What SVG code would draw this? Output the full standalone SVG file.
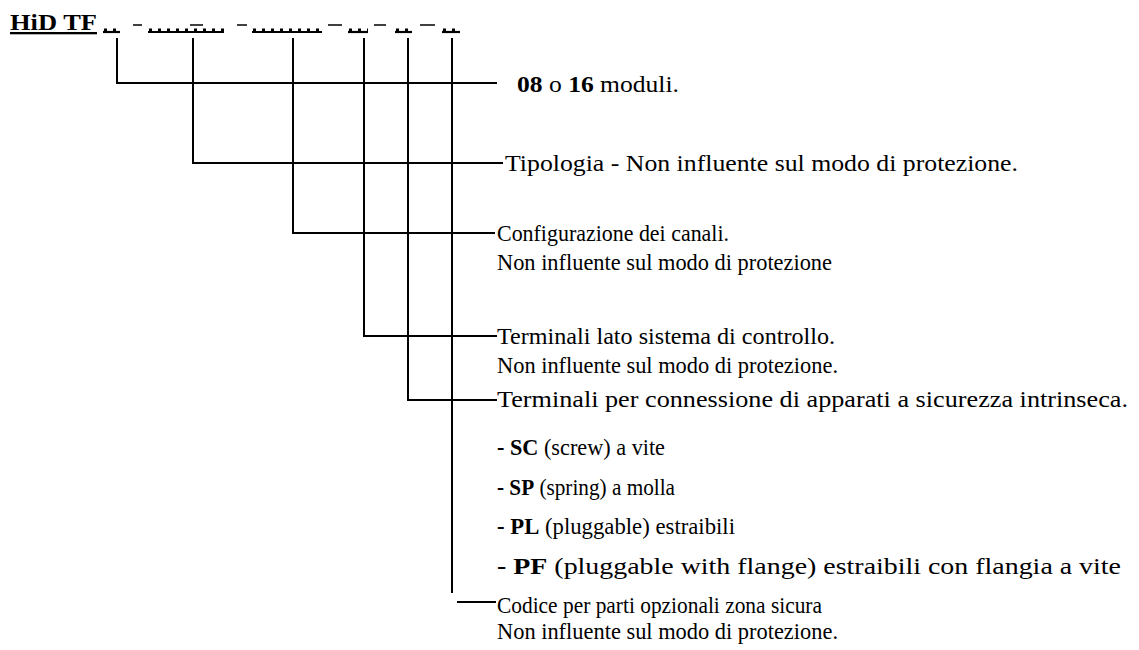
<svg xmlns="http://www.w3.org/2000/svg" width="1139" height="650" viewBox="0 0 1139 650">
<style>
text{font-family:"Liberation Serif","Times New Roman",serif;font-size:23px;fill:#000}
.b{font-weight:bold}
.ln{stroke:#000;stroke-width:2;fill:none}
.ul{stroke:#000;stroke-width:2.2;fill:none}
.dt{stroke:#000;stroke-width:3;stroke-dasharray:3 6;fill:none}
.ds{stroke:#000;stroke-width:1.5;fill:none}
</style>
<rect width="1139" height="650" fill="#fff"/>
<g id="header">
<text x="10" y="30" class="b" font-size="23" textLength="87" lengthAdjust="spacingAndGlyphs" text-decoration="underline">HiD TF</text>
<g id="placeholders">
<line class="ul" x1="103" y1="32" x2="120" y2="32"/>
<line class="ds" x1="133" y1="25" x2="142" y2="25"/>
<line class="ul" x1="148" y1="32" x2="224" y2="32"/>
<line class="ds" x1="190" y1="25" x2="203" y2="25"/>
<line class="ds" x1="237" y1="25" x2="247" y2="25"/>
<line class="ul" x1="252" y1="32" x2="322" y2="32"/>
<line class="ds" x1="328" y1="25" x2="342" y2="25"/>
<line class="ul" x1="348" y1="32" x2="368" y2="32"/>
<line class="ds" x1="374" y1="25" x2="386" y2="25"/>
<line class="ul" x1="395" y1="32" x2="412" y2="32"/>
<line class="ds" x1="420" y1="25" x2="435" y2="25"/>
<line class="ul" x1="442" y1="32" x2="460" y2="32"/>
<path class="dt" d="M104 30H120M149 30H224M253 30H322M349 30H368M396 30H412M443 30H460"/>
</g>
</g>
<g id="connectors">
<path class="ln" d="M117 38V83H497"/>
<path class="ln" d="M193 38V163H503"/>
<path class="ln" d="M293 38V233H495"/>
<path class="ln" d="M364 38V336H497"/>
<path class="ln" d="M408 38V400H497"/>
<path class="ln" d="M452 38V593"/>
<path class="ln" d="M457 602H496"/>
</g>
<g id="n1"><text x="517" y="92" textLength="162" lengthAdjust="spacingAndGlyphs"><tspan class="b">08</tspan> o <tspan class="b">16</tspan> moduli.</text></g>
<g id="n2"><text x="505" y="171" textLength="513" lengthAdjust="spacingAndGlyphs">Tipologia - Non influente sul modo di protezione.</text></g>
<g id="n3"><text x="497" y="241" textLength="232" lengthAdjust="spacingAndGlyphs">Configurazione dei canali.</text><text x="497" y="270" textLength="335" lengthAdjust="spacingAndGlyphs">Non influente sul modo di protezione</text></g>
<g id="n4"><text x="497" y="344" textLength="338" lengthAdjust="spacingAndGlyphs">Terminali lato sistema di controllo.</text><text x="497" y="373" textLength="341" lengthAdjust="spacingAndGlyphs">Non influente sul modo di protezione.</text></g>
<g id="n5"><text x="497" y="407" textLength="631" lengthAdjust="spacingAndGlyphs">Terminali per connessione di apparati a sicurezza intrinseca.</text>
<text x="497" y="455" textLength="168" lengthAdjust="spacingAndGlyphs"><tspan class="b">- SC</tspan> (screw) a vite</text>
<text x="497" y="495" textLength="178" lengthAdjust="spacingAndGlyphs"><tspan class="b">- SP</tspan> (spring) a molla</text>
<text x="497" y="534" textLength="238" lengthAdjust="spacingAndGlyphs"><tspan class="b">- PL</tspan> (pluggable) estraibili</text>
<text x="497" y="574" textLength="624" lengthAdjust="spacingAndGlyphs"><tspan class="b">- PF</tspan> (pluggable with flange) estraibili con flangia a vite</text></g>
<g id="n6"><text x="497" y="613" textLength="325" lengthAdjust="spacingAndGlyphs">Codice per parti opzionali zona sicura</text><text x="497" y="639" textLength="341" lengthAdjust="spacingAndGlyphs">Non influente sul modo di protezione.</text></g>
</svg>
